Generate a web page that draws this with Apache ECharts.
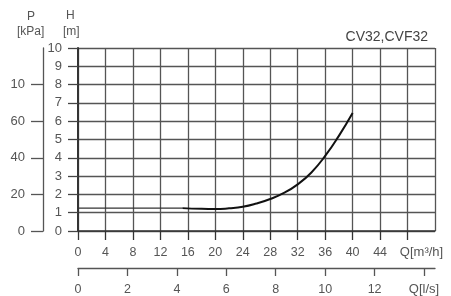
<!DOCTYPE html>
<html>
<head>
<meta charset="utf-8">
<script src="https://cdn.jsdelivr.net/npm/echarts@6/dist/echarts.min.js"></script>
<style>
  html, body { margin: 0; padding: 0; background: #fff; }
  #chart { width: 451px; height: 296px; }
</style>
</head>
<body>
<div id="chart"></div>
<script>
// 50Hz curve, Q in m3/h, H in m
var curveQ = [15.2, 18, 20, 22, 24, 26, 28, 30, 32, 34, 36, 38, 40]
var curveH = [1.25, 1.21, 1.2, 1.24, 1.32, 1.5, 1.75, 2.08, 2.55, 3.2, 4.1, 5.2, 6.45]
// flat line at the start
var flatQ = [0, 15.2]
var flatH = [1.25, 1.25]
// P axis labels placed at H ticks
var pTicks = [0, 2, 4, 6, 8]
var pLabels = ['0', '20', '40', '60', '10']

var font = 'Liberation Sans, Arial, sans-serif'
var txt = '#555'
var gridColor = '#555'

var curveData = curveQ.map(function (q, i) { return [q, curveH[i]] })
curveData[curveData.length - 1] = {
  value: curveData[curveData.length - 1],
  label: { show: true, position: 'left', distance: 12, formatter: '50Hz', color: txt, fontSize: 13, fontFamily: font }
}

var myChart = echarts.init(document.getElementById('chart'))
myChart.setOption({
  animation: false,
  backgroundColor: '#fff',
  title: {
    text: 'CV32,CVF32',
    right: 18,
    top: 25,
    textStyle: { color: '#444', fontSize: 14, fontWeight: 'normal', fontFamily: font }
  },
  graphic: [
    { type: 'text', left: 27, top: 11, style: { text: 'P', fill: txt, fontSize: 12, fontFamily: font } },
    { type: 'text', left: 17, top: 26, style: { text: '[kPa]', fill: txt, fontSize: 12, fontFamily: font } },
    { type: 'text', left: 66, top: 10, style: { text: 'H', fill: txt, fontSize: 12, fontFamily: font } },
    { type: 'text', left: 63, top: 26, style: { text: '[m]', fill: txt, fontSize: 12, fontFamily: font } }
  ],
  grid: { left: 78, right: 16, top: 48, bottom: 64 },
  xAxis: [
    {
      type: 'value',
      min: 0,
      max: 52,
      interval: 4,
      axisLine: { onZero: false, lineStyle: { color: '#333', width: 1.5 } },
      axisTick: { length: 9, lineStyle: { color: '#333', width: 1.3 } },
      splitLine: { show: true, lineStyle: { color: gridColor, width: 1.3 } },
      axisLabel: {
        margin: 15,
        color: txt,
        fontSize: 12.5,
        fontFamily: font,
        showMaxLabel: false,
        formatter: function (v) {
          if (v === 48) return '{q|Q[m³/h]}'
          return v
        },
        rich: { q: { color: txt, fontSize: 13, fontFamily: font, padding: [0, 0, 0, 28] } }
      }
    },
    {
      type: 'value',
      position: 'bottom',
      offset: 37,
      min: 0,
      max: 52 / 3.6,
      interval: 2,
      axisLine: { show: true, onZero: false, lineStyle: { color: '#555', width: 1.3 } },
      axisTick: { show: true, length: 8, lineStyle: { color: '#555', width: 1.3 } },
      splitLine: { show: false },
      axisLabel: {
        margin: 15,
        color: txt,
        fontSize: 12.5,
        fontFamily: font,
        showMaxLabel: false,
        formatter: function (v) {
          if (v === 14) return '{q|Q[l/s]}'
          return v
        },
        rich: { q: { color: txt, fontSize: 13, fontFamily: font } }
      }
    }
  ],
  yAxis: [
    {
      type: 'value',
      min: 0,
      max: 10,
      interval: 1,
      axisLine: { show: true, onZero: false, lineStyle: { color: '#333', width: 2 } },
      axisTick: { show: true, length: 10, lineStyle: { color: '#444', width: 1.3 } },
      splitLine: { show: true, lineStyle: { color: gridColor, width: 1.3 } },
      axisLabel: { margin: 16, color: txt, fontSize: 13, fontFamily: font }
    },
    {
      type: 'value',
      position: 'left',
      offset: 35,
      min: 0,
      max: 10,
      interval: 2,
      axisLine: { show: true, onZero: false, lineStyle: { color: '#555', width: 1.3 } },
      axisTick: { show: true, length: 12, customValues: pTicks, lineStyle: { color: '#555', width: 1.3 } },
      splitLine: { show: false },
      axisLabel: {
        margin: 18,
        color: txt,
        fontSize: 13,
        fontFamily: font,
        customValues: pTicks,
        formatter: function (v) {
          var i = pTicks.indexOf(v)
          return i >= 0 ? pLabels[i] : ''
        }
      }
    }
  ],
  series: [
    {
      type: 'line',
      data: flatQ.map(function (q, i) { return [q, flatH[i]] }),
      showSymbol: false,
      lineStyle: { color: '#333', width: 1.2 }
    },
    {
      type: 'line',
      data: curveData,
      smooth: 0.5,
      showSymbol: false,
      lineStyle: { color: '#111', width: 2 }
    }
  ]
})
</script>
</body>
</html>
